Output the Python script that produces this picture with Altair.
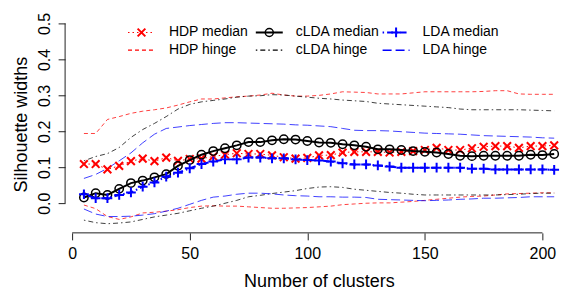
import altair as alt
import pandas as pd

# ---------------- data ----------------
clusters = list(range(5, 206, 5))

hdp_median = [0.109, 0.109, 0.094, 0.104, 0.117, 0.124, 0.117, 0.127, 0.118, 0.123,
              0.124, 0.130, 0.135, 0.139, 0.137, 0.137, 0.133, 0.128, 0.124, 0.126,
              0.133, 0.134, 0.141, 0.143, 0.143, 0.143, 0.141, 0.143, 0.145, 0.148,
              0.154, 0.148, 0.148, 0.153, 0.157, 0.159, 0.159, 0.154, 0.159, 0.159, 0.161]
clda_median = [0.016, 0.028, 0.023, 0.040, 0.056, 0.063, 0.072, 0.081, 0.104, 0.120,
               0.135, 0.145, 0.153, 0.161, 0.170, 0.170, 0.175, 0.178, 0.177, 0.173,
               0.169, 0.168, 0.164, 0.161, 0.157, 0.150, 0.150, 0.148, 0.145, 0.143,
               0.141, 0.137, 0.132, 0.131, 0.132, 0.132, 0.132, 0.132, 0.135, 0.134, 0.137]
lda_median = [0.025, 0.014, 0.014, 0.023, 0.030, 0.046, 0.058, 0.074, 0.085, 0.097,
              0.109, 0.116, 0.122, 0.122, 0.127, 0.127, 0.125, 0.125, 0.122, 0.120,
              0.119, 0.116, 0.111, 0.108, 0.108, 0.105, 0.102, 0.099, 0.099, 0.099,
              0.099, 0.099, 0.099, 0.096, 0.096, 0.094, 0.094, 0.094, 0.094, 0.094, 0.093]

hdp_upper = [0.194, 0.194, 0.233, 0.241, 0.250, 0.256, 0.260, 0.265, 0.273, 0.282,
             0.290, 0.290, 0.293, 0.296, 0.298, 0.301, 0.306, 0.301, 0.298, 0.298,
             0.300, 0.304, 0.310, 0.309, 0.308, 0.304, 0.304, 0.304, 0.307, 0.310,
             0.310, 0.310, 0.310, 0.310, 0.311, 0.313, 0.313, 0.304, 0.303, 0.303, 0.303]
hdp_lower = [-0.005, -0.015, -0.037, -0.045, -0.038, -0.027, -0.025, -0.022, -0.018, -0.012,
             -0.008, -0.007, -0.008, -0.008, -0.010, -0.012, -0.014, -0.014, -0.013, -0.012,
             -0.010, -0.008, -0.004, -0.002, 0.000, 0.001, 0.001, 0.003, 0.005, 0.008,
             0.011, 0.014, 0.017, 0.019, 0.020, 0.023, 0.026, 0.027, 0.028, 0.029, 0.029]
clda_upper = [0.118, 0.130, 0.138, 0.155, 0.183, 0.205, 0.222, 0.241, 0.262, 0.275,
              0.282, 0.286, 0.290, 0.295, 0.298, 0.299, 0.302, 0.301, 0.298, 0.295,
              0.292, 0.290, 0.287, 0.285, 0.283, 0.278, 0.276, 0.274, 0.272, 0.270,
              0.268, 0.266, 0.262, 0.260, 0.260, 0.260, 0.260, 0.260, 0.259, 0.258, 0.257]
clda_lower = [-0.047, -0.054, -0.057, -0.055, -0.052, -0.045, -0.038, -0.033, -0.028, -0.021,
              -0.014, -0.008, 0.000, 0.008, 0.018, 0.022, 0.027, 0.031, 0.035, 0.041,
              0.045, 0.046, 0.044, 0.039, 0.036, 0.033, 0.030, 0.028, 0.025, 0.023,
              0.023, 0.023, 0.023, 0.023, 0.023, 0.023, 0.024, 0.025, 0.027, 0.028, 0.028]
lda_upper = [0.069, 0.080, 0.097, 0.118, 0.140, 0.168, 0.192, 0.208, 0.212, 0.216,
             0.219, 0.222, 0.224, 0.224, 0.223, 0.222, 0.221, 0.220, 0.218, 0.217,
             0.215, 0.213, 0.208, 0.203, 0.202, 0.202, 0.201, 0.199, 0.197, 0.195,
             0.194, 0.193, 0.192, 0.190, 0.188, 0.187, 0.186, 0.185, 0.184, 0.182, 0.181]
lda_lower = [-0.016, -0.030, -0.037, -0.037, -0.036, -0.033, -0.029, -0.022, -0.014, -0.003,
             0.008, 0.017, 0.020, 0.025, 0.028, 0.028, 0.026, 0.023, 0.021, 0.020,
             0.018, 0.018, 0.017, 0.017, 0.016, 0.011, 0.010, 0.009, 0.008, 0.007,
             0.008, 0.009, 0.011, 0.012, 0.014, 0.014, 0.015, 0.016, 0.018, 0.018, 0.018]

x_ticks = [0, 50, 100, 150, 200]
y_ticks = [0.0, 0.1, 0.2, 0.3, 0.4, 0.5]
legend_labels = ["HDP median", "cLDA median", "LDA median", "HDP hinge", "cLDA hinge", "LDA hinge"]

# ---------------- layout ----------------
W, H = 508.7, 217.8
FONT = "Liberation Sans"
RED, BLUE, BLACK = "#FF0000", "#0000FF", "#000000"
X_SHAPE = "M-1,-1L1,1M-1,1L1,-1"
PLUS_SHAPE = "M-1,0L1,0M0,-1L0,1"

xs = alt.Scale(domain=[-3, 213], nice=False, zero=False)
ys = alt.Scale(domain=[-0.0824, 0.5224], nice=False, zero=False)

xaxis = alt.Axis(values=x_ticks, format="d", domain=False, grid=False,
                 tickSize=7, tickColor="#222", tickWidth=1,
                 labelFont=FONT, labelFontSize=16, labelColor="black",
                 labelPadding=14, labelBaseline="middle", labelAlign="center",
                 title="Number of clusters", titleFont=FONT, titleFontSize=18,
                 titleFontWeight="normal", titleColor="black",
                 titleX=W / 2 - 0.2, titleY=48.7, titleBaseline="middle", titleAlign="center")
yaxis = alt.Axis(values=y_ticks, format=".1f", domain=False, grid=False,
                 tickSize=7, tickColor="#222", tickWidth=1,
                 labelFont=FONT, labelFontSize=16, labelColor="black",
                 labelAngle=270, labelPadding=14, labelBaseline="middle", labelAlign="center",
                 title="Silhouette widths", titleFont=FONT, titleFontSize=18,
                 titleFontWeight="normal", titleColor="black", titleAngle=270,
                 titleX=-43.5, titleY=H / 2, titleBaseline="middle", titleAlign="center")

X = alt.X("k:Q", scale=xs, axis=xaxis)
Y = alt.Y("v:Q", scale=ys, axis=yaxis)


def frame(vals):
    return pd.DataFrame({"k": clusters, "v": vals})


def line(vals, color, dash, width, opacity=1.0):
    kw = dict(color=color, strokeWidth=width, opacity=opacity, clip=False)
    if dash:
        kw["strokeDash"] = dash
    return alt.Chart(frame(vals)).mark_line(**kw).encode(x=X, y=Y)


def points(vals, color, shape, size, width):
    return alt.Chart(frame(vals)).mark_point(
        shape=shape, color=color, size=size, strokeWidth=width, filled=False, opacity=1
    ).encode(x=X, y=Y)


layers = [
    line(hdp_upper, RED, [4, 3], 1, 0.75),
    line(hdp_lower, RED, [4, 3], 1, 0.75),
    line(clda_upper, BLACK, [1.5, 3, 5, 3], 1, 0.75),
    line(clda_lower, BLACK, [1.5, 3, 5, 3], 1, 0.75),
    line(lda_upper, BLUE, [9, 4], 1, 0.75),
    line(lda_lower, BLUE, [9, 4], 1, 0.75),
    line(hdp_median, RED, [1.5, 3], 1),
    points(hdp_median, RED, X_SHAPE, 60, 2),
    line(clda_median, BLACK, None, 2),
    points(clda_median, BLACK, "circle", 70, 1.5),
    line(lda_median, BLUE, [1.5, 3, 6, 3], 2),
    points(lda_median, BLUE, PLUS_SHAPE, 95, 2),
]

# axis lines (R style: only between first and last tick)
xline = alt.Chart(pd.DataFrame({"k": [x_ticks[0]], "k2": [x_ticks[-1]]})).mark_rule(
    color="#222", strokeWidth=1).encode(x=X, x2="k2:Q", y=alt.value(H))
yline = alt.Chart(pd.DataFrame({"v": [y_ticks[0]], "v2": [y_ticks[-1]]})).mark_rule(
    color="#222", strokeWidth=1).encode(y=Y, y2="v2:Q", x=alt.value(0))
layers += [xline, yline]

# ---------------- legend (drawn manually, R style) ----------------
row_y = [17.1, 34.8]
seg = [(63, 90), (191, 218), (318, 345)]
text_x = [104, 231, 358]
leg_styles = [
    (RED, [1.5, 3], 1, X_SHAPE, 60, 2),
    (BLACK, None, 2, "circle", 64, 1.5),
    (BLUE, [1.5, 3, 6, 3], 2, PLUS_SHAPE, 95, 2),
    (RED, [4, 3], 1.3, None, 0, 0),
    (BLACK, [1.5, 3, 5, 3], 1.3, None, 0, 0),
    (BLUE, [9, 4], 1.5, None, 0, 0),
]
for i, label in enumerate(legend_labels):
    r, c = divmod(i, 3)
    color, dash, lw, shape, size, sw = leg_styles[i]
    d = pd.DataFrame({"t": [label]})
    kw = dict(color=color, strokeWidth=lw)
    if dash:
        kw["strokeDash"] = dash
    layers.append(alt.Chart(d).mark_rule(**kw).encode(
        x=alt.value(seg[c][0]), x2=alt.value(seg[c][1]), y=alt.value(row_y[r])))
    if shape:
        layers.append(alt.Chart(d).mark_point(
            shape=shape, color=color, size=size, strokeWidth=sw, filled=False, opacity=1
        ).encode(x=alt.value((seg[c][0] + seg[c][1]) / 2), y=alt.value(row_y[r])))
    layers.append(alt.Chart(d).mark_text(
        font=FONT, fontSize=14, align="left", baseline="middle", color="black"
    ).encode(x=alt.value(text_x[c]), y=alt.value(row_y[r]), text="t:N"))

chart = alt.layer(*layers).properties(
    width=W, height=H,
    autosize=alt.AutoSizeParams(type="none"),
    padding={"left": 57.2, "top": 7.2, "right": 0, "bottom": 58},
    background="white",
).configure_view(stroke=None)

chart.save("out.html", embed_options={"renderer": "svg", "actions": False})
